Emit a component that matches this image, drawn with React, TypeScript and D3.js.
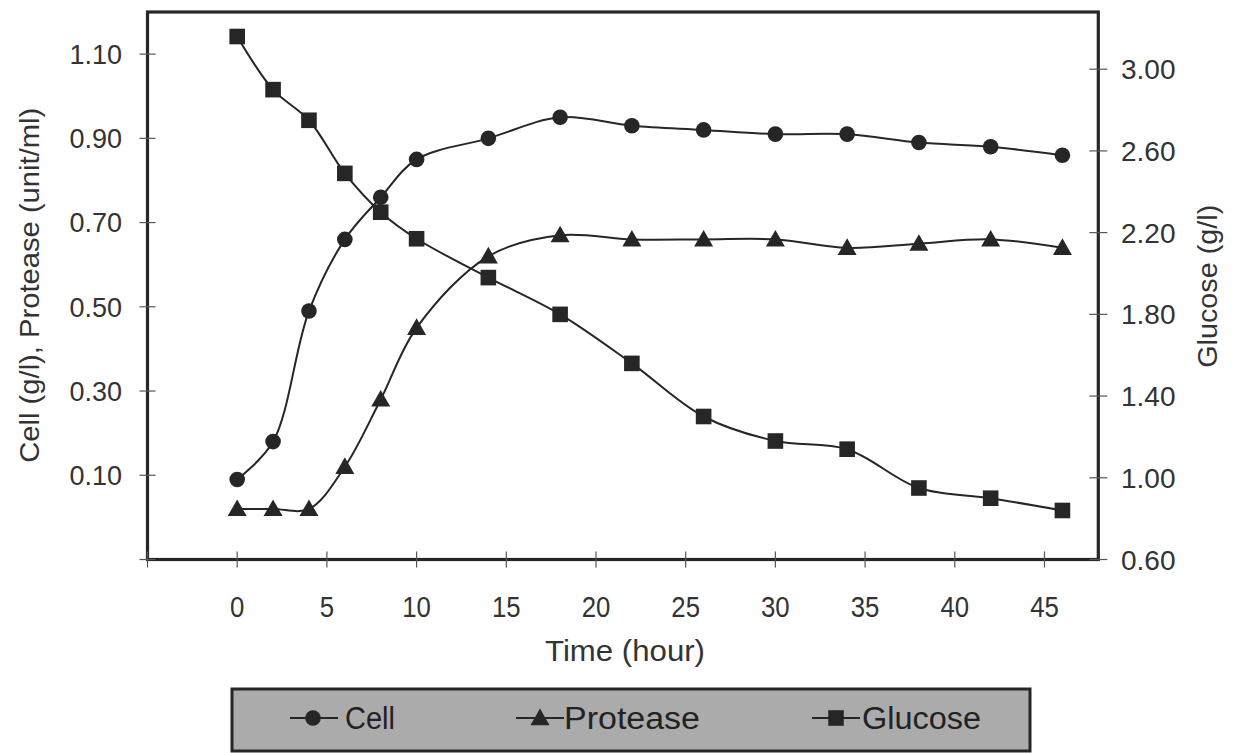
import React from "react";
import * as d3 from "d3";

const time = [0, 2, 4, 6, 8, 10, 14, 18, 22, 26, 30, 34, 38, 42, 46];
const cell = [0.09, 0.18, 0.49, 0.66, 0.76, 0.85, 0.9, 0.95, 0.93, 0.92, 0.91, 0.91, 0.89, 0.88, 0.86];
const protease = [0.02, 0.02, 0.02, 0.12, 0.28, 0.45, 0.62, 0.67, 0.66, 0.66, 0.66, 0.64, 0.65, 0.66, 0.64];
const glucose = [3.16, 2.9, 2.75, 2.49, 2.3, 2.17, 1.98, 1.8, 1.56, 1.3, 1.18, 1.14, 0.95, 0.9, 0.84];

const xTicks = [-5, 0, 5, 10, 15, 20, 25, 30, 35, 40, 45];
const xTickLabels = ["", "0", "5", "10", "15", "20", "25", "30", "35", "40", "45"];
const leftTicks = [-0.1, 0.1, 0.3, 0.5, 0.7, 0.9, 1.1];
const leftTickLabels = ["", "0.10", "0.30", "0.50", "0.70", "0.90", "1.10"];
const rightTicks = [0.6, 1.0, 1.4, 1.8, 2.2, 2.6, 3.0];
const rightTickLabels = ["0.60", "1.00", "1.40", "1.80", "2.20", "2.60", "3.00"];

const seriesNames = ["Cell", "Protease", "Glucose"];

const W = 1237;
const H = 753;
const L = 147.5, R = 1098.3, T = 12, B = 559.5;
const INK = "#262626";
const FONT = "'Liberation Sans', Arial, sans-serif";

function Marker({ kind, x, y }: { kind: string; x: number; y: number }) {
  if (kind === "Cell") return <circle cx={x} cy={y} r={7.8} fill={INK} />;
  if (kind === "Protease") {
    const s = 9.5;
    return <path d={`M${x},${y - s}L${x + s},${y + s * 0.75}L${x - s},${y + s * 0.75}Z`} fill={INK} />;
  }
  return <rect x={x - 7.8} y={y - 7.8} width={15.6} height={15.6} fill={INK} />;
}

export default function App() {
  const x = d3.scaleLinear().domain([-5, 48]).range([L, R]);
  const yL = d3.scaleLinear().domain([-0.1, 1.2]).range([B, T]);
  const yR = d3.scaleLinear().domain([0.6, 3.28]).range([B, T]);

  const lineL = d3
    .line<[number, number]>()
    .x((d) => x(d[0]))
    .y((d) => yL(d[1]))
    .curve(d3.curveCatmullRom.alpha(0.5));
  const lineR = d3
    .line<[number, number]>()
    .x((d) => x(d[0]))
    .y((d) => yR(d[1]))
    .curve(d3.curveCatmullRom.alpha(0.5));

  const cellPts = time.map((t, i) => [t, cell[i]] as [number, number]);
  const protPts = time.map((t, i) => [t, protease[i]] as [number, number]);
  const gluPts = time.map((t, i) => [t, glucose[i]] as [number, number]);

  const legendItems = [
    { name: seriesNames[0], lx: 290, mx: 313, tx: 345, tl: 50 },
    { name: seriesNames[1], lx: 516, mx: 540, tx: 564, tl: 136 },
    { name: seriesNames[2], lx: 812, mx: 836, tx: 862, tl: 119 },
  ];

  const midY = (T + B) / 2;
  const midX = 625;

  return (
    <svg
      width={W}
      height={H}
      style={{ position: "absolute", left: 0, top: 0, background: "#fff" }}
      fontFamily={FONT}
    >
      <rect x={0} y={0} width={W} height={H} fill="#fff" />
      {/* series */}
      <path d={lineR(gluPts) || ""} fill="none" stroke={INK} strokeWidth={2} />
      <path d={lineL(protPts) || ""} fill="none" stroke={INK} strokeWidth={2} />
      <path d={lineL(cellPts) || ""} fill="none" stroke={INK} strokeWidth={2} />
      {gluPts.map((d, i) => (
        <Marker key={"g" + i} kind="Glucose" x={x(d[0])} y={yR(d[1])} />
      ))}
      {protPts.map((d, i) => (
        <Marker key={"p" + i} kind="Protease" x={x(d[0])} y={yL(d[1])} />
      ))}
      {cellPts.map((d, i) => (
        <Marker key={"c" + i} kind="Cell" x={x(d[0])} y={yL(d[1])} />
      ))}

      {/* frame */}
      <rect x={L} y={T} width={R - L} height={B - T} fill="none" stroke={INK} strokeWidth={3.2} />

      {/* left axis */}
      {leftTicks.map((v, i) => (
        <g key={"l" + i}>
          <line x1={L - 8} x2={L + 8} y1={yL(v)} y2={yL(v)} stroke="#555" strokeWidth={1.2} />
          <text x={122} y={yL(v)} dy="0.36em" textAnchor="end" fontSize={27} fill="#333">
            {leftTickLabels[i]}
          </text>
        </g>
      ))}
      {/* right axis */}
      {rightTicks.map((v, i) => (
        <g key={"r" + i}>
          <line x1={R - 9} x2={R + 9} y1={yR(v)} y2={yR(v)} stroke="#555" strokeWidth={1.2} />
          <text x={1121} y={yR(v)} dy="0.36em" textAnchor="start" fontSize={28} fill="#333">
            {rightTickLabels[i]}
          </text>
        </g>
      ))}
      {/* x axis */}
      {xTicks.map((v, i) => (
        <g key={"x" + i}>
          <line x1={x(v)} x2={x(v)} y1={B - 8} y2={B + 8} stroke="#555" strokeWidth={1.2} />
          <text
            x={x(v)}
            y={617}
            textAnchor="middle"
            fontSize={30}
            fill="#333"
            transform={`translate(${x(v)},0) scale(0.86,1) translate(${-x(v)},0)`}
          >
            {xTickLabels[i]}
          </text>
        </g>
      ))}

      {/* axis titles */}
      <text
        transform={`translate(39,${midY}) rotate(-90)`}
        x={-177}
        fontSize={28}
        fill="#333"
        textLength={355}
        lengthAdjust="spacingAndGlyphs"
      >
        Cell (g/l), Protease (unit/ml)
      </text>
      <text
        transform={`translate(1217,${midY}) rotate(-90)`}
        x={-82}
        fontSize={27}
        fill="#333"
        textLength={163}
        lengthAdjust="spacingAndGlyphs"
      >
        Glucose (g/l)
      </text>
      <text
        x={midX - 80}
        y={661}
        fontSize={30}
        fill="#333"
        textLength={160}
        lengthAdjust="spacingAndGlyphs"
      >
        Time (hour)
      </text>

      {/* legend */}
      <rect x={232} y={689} width={798} height={62} fill="#ababab" stroke={INK} strokeWidth={3} />
      {legendItems.map((it) => (
        <g key={it.name}>
          <line x1={it.lx} x2={it.lx + 48} y1={718} y2={718} stroke={INK} strokeWidth={2} />
          <Marker kind={it.name} x={it.mx} y={718} />
          <text
            x={it.tx}
            y={718}
            dy="0.36em"
            fontSize={31}
            fill="#222"
            textLength={it.tl}
            lengthAdjust="spacingAndGlyphs"
          >
            {it.name}
          </text>
        </g>
      ))}
    </svg>
  );
}
